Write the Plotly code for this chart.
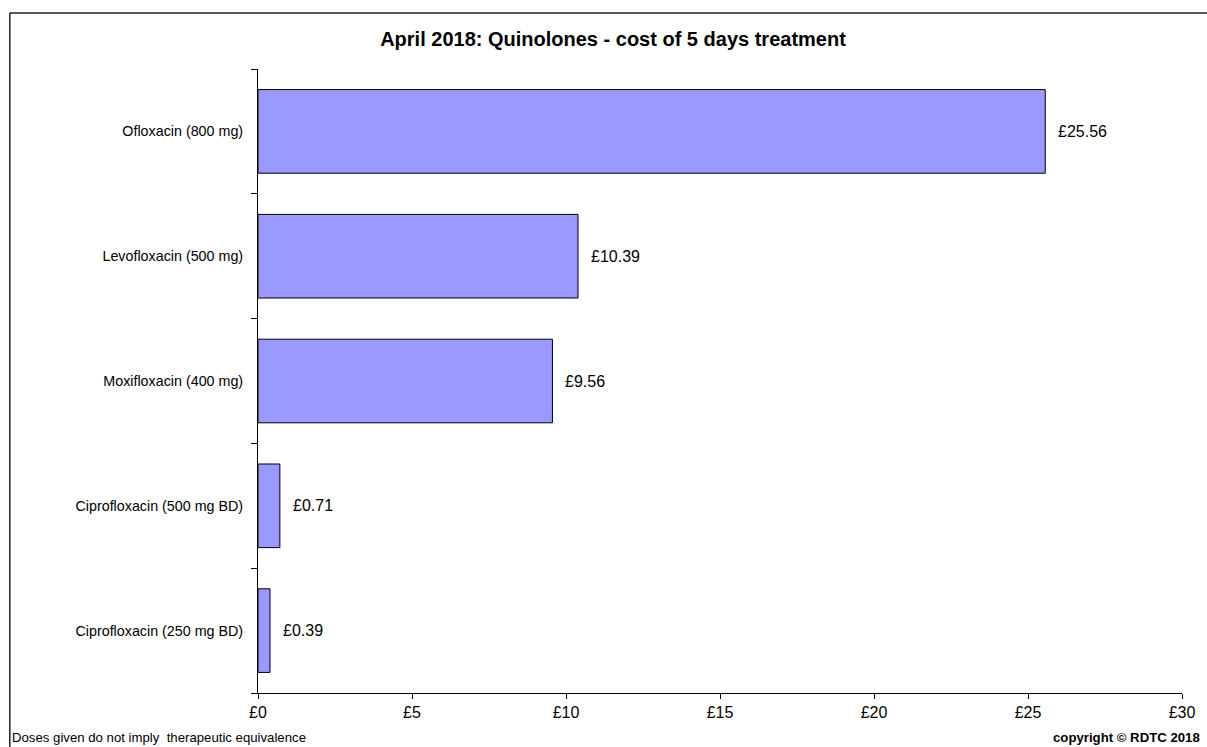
import plotly.graph_objects as go

# Quinolones - cost of 5 days treatment (April 2018)
drugs = ['Ciprofloxacin (250 mg BD)', 'Ciprofloxacin (500 mg BD)', 'Moxifloxacin (400 mg)',
         'Levofloxacin (500 mg)', 'Ofloxacin (800 mg)']
costs = [0.39, 0.71, 9.56, 10.39, 25.56]
x_ticks = [0, 5, 10, 15, 20, 25, 30]
x_tick_labels = ['£0', '£5', '£10', '£15', '£20', '£25', '£30']

FONT = 'Liberation Sans, Arial, sans-serif'

W, H = 1207, 747
L, T, R, B = 258, 69, 22, 54
pw, ph = W - L - R, H - T - B


def px(x):  # figure pixel -> paper x
    return (x - L) / pw


def py(y):  # figure pixel -> paper y
    return (H - B - y) / ph


fig = go.Figure()
fig.add_trace(go.Bar(x=costs, y=drugs, orientation='h', width=0.67,
                     marker=dict(color='#9999FF', line=dict(color='#000000', width=1)),
                     hoverinfo='x+y'))

# value labels next to each bar
annots = [dict(x=c, y=d, text='£%.2f' % c, xref='x', yref='y', xanchor='left', yanchor='middle',
               xshift=11, showarrow=False, font=dict(family=FONT, size=16, color='#000'))
          for c, d in zip(costs, drugs)]

# footer texts
annots.append(dict(text='Doses given do not imply  therapeutic equivalence', xref='paper', yref='paper',
                   x=px(9), y=py(737), xanchor='left', yanchor='middle',
                   showarrow=False, font=dict(family=FONT, size=13.2, color='#000')))
annots.append(dict(text='<b>copyright © RDTC 2018</b>', xref='paper', yref='paper',
                   x=px(1205), y=py(737), xanchor='right', yanchor='middle',
                   showarrow=False, font=dict(family=FONT, size=13.2, color='#000')))

# frame: only the left and top edges are visible in the window
frame = dict(color='#222', width=1.5)
fig.update_layout(
    width=W, height=H,
    margin=dict(l=L, r=R, t=T, b=B),
    paper_bgcolor='white', plot_bgcolor='white',
    title=dict(text='<b>April 2018: Quinolones - cost of 5 days treatment</b>', x=613 / W,
               xanchor='center', y=1 - 39 / H, yanchor='middle',
               font=dict(family=FONT, size=20, color='#000')),
    showlegend=False,
    annotations=annots,
    shapes=[dict(type='line', xref='paper', yref='paper', x0=px(9), x1=px(9),
                 y0=py(H + 20), y1=py(13), line=frame, layer='below'),
            dict(type='line', xref='paper', yref='paper', x0=px(9), x1=px(W + 20),
                 y0=py(13), y1=py(13), line=frame, layer='below')],
)

fig.update_xaxes(range=[0, 30], tickvals=x_ticks, ticktext=x_tick_labels,
                 showgrid=False, zeroline=False, showline=True, linecolor='#000', linewidth=1,
                 ticks='outside', ticklen=5, tickcolor='#000',
                 tickfont=dict(family=FONT, size=16, color='#000'))
fig.update_yaxes(type='category', categoryorder='array', categoryarray=drugs,
                 tickson='boundaries', showgrid=False, zeroline=False,
                 showline=True, linecolor='#000', linewidth=1,
                 ticks='outside', ticklen=6, tickcolor='#000', ticklabelstandoff=11,
                 tickfont=dict(family=FONT, size=14.3, color='#000'))

# drop the default page margin so the figure fills the window exactly
fig.write_html('out.html', config={'displayModeBar': False},
               post_script="document.body.style.margin='0';document.body.style.overflow='hidden';")
